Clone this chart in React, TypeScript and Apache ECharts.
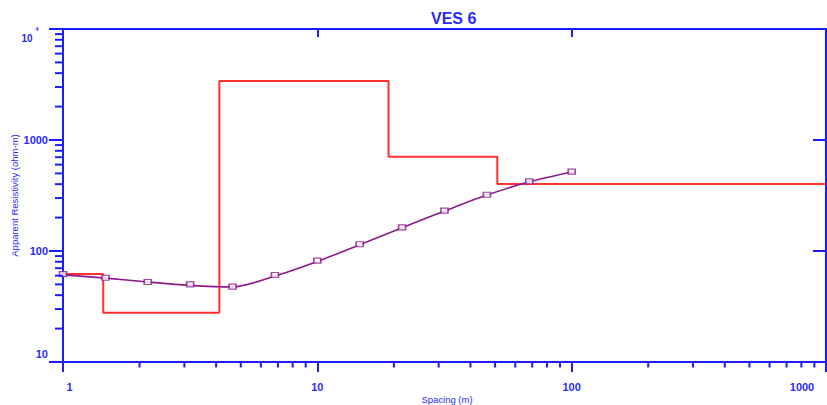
import React, { useEffect, useRef } from 'react';
import * as echarts from 'echarts';

// Observed sounding data (AB/2 spacing in m, apparent resistivity in ohm-m)
const spacing = [1, 1.468, 2.154, 3.162, 4.642, 6.813, 10, 14.68, 21.54, 31.62, 46.42, 68.13, 100];
const observedRho = [62, 57.4, 52.6, 50, 47.7, 60.8, 81.8, 115, 163, 231, 321, 424, 518];
// Calculated (model) curve
const calculatedRho = [61, 57, 52.5, 49, 47.5, 59.5, 80.5, 114, 162, 229, 319, 420, 515];
// Layered model (step): layer top spacing and resistivity
const layerTops = [1, 1.44, 4.12, 19.05, 51, 1000];
const layerRho = [62, 27.8, 3400, 707, 402, 402];

// Axis ranges and ticks
const X_MIN = 1;
const X_MAX = 1000;
const Y_MIN = 10;
const Y_MAX = 10000;
const minorMultipliers = [2, 3, 4, 5, 6, 7, 8, 9];
const xDecades = [1, 10, 100];
const yDecades = [10, 100, 1000];

const TITLE = 'VES 6';
const X_NAME = 'Spacing (m)';
const Y_NAME = 'Apparent Resistivity (ohm-m)';

const AXIS_COLOR = '#1c1cff';
const LABEL_COLOR = '#2a2aff';
const RED = '#ff3030';
const PURPLE = '#8a1a8a';
const FONT = '"Liberation Sans", Arial, sans-serif';

const xMinorTicks: number[] = [];
xDecades.forEach((d) => minorMultipliers.forEach((m) => xMinorTicks.push(m * d)));
const yMinorTicks: number[] = [];
yDecades.forEach((d) => minorMultipliers.forEach((m) => yMinorTicks.push(m * d)));

const labelBase = { fontFamily: FONT, fontSize: 11, fontWeight: 'bold', color: LABEL_COLOR };

export default function App() {
  const ref = useRef<HTMLDivElement>(null);

  useEffect(() => {
    document.body.style.margin = '0';
    const chart = echarts.init(ref.current as HTMLDivElement, null, { renderer: 'svg' });

    const option: any = {
      animation: false,
      backgroundColor: '#ffffff',
      textStyle: { fontFamily: FONT },
      title: {
        text: TITLE,
        left: 426,
        top: 5,
        textStyle: { fontFamily: FONT, fontSize: 16, fontWeight: 'bold', color: LABEL_COLOR },
      },
      grid: { left: 63, right: 1, top: 29, bottom: 43, containLabel: false, outerBoundsMode: 'none' },
      xAxis: [
        {
          type: 'log',
          logBase: 10,
          min: X_MIN,
          max: X_MAX,
          position: 'bottom',
          name: X_NAME,
          nameLocation: 'middle',
          nameGap: 32,
          nameMoveOverlap: false,
          nameTextStyle: { fontFamily: FONT, fontSize: 9.5, color: LABEL_COLOR, padding: [0, 0, 0, 5] },
          axisLine: { show: true, onZero: false, lineStyle: { color: AXIS_COLOR, width: 2 } },
          axisTick: { show: true, inside: false, length: 10, lineStyle: { color: AXIS_COLOR, width: 2 } },
          splitLine: { show: false },
          minorTick: { show: false },
          axisLabel: {
            show: true,
            margin: 19,
            ...labelBase,
            formatter: (v: number) => {
              const r = Math.round(v);
              if (r === X_MIN) return `{first|${r}}`;
              if (r === X_MAX) return `{last|${r}}`;
              return `{n|${r}}`;
            },
            rich: {
              n: { ...labelBase },
              first: { ...labelBase, padding: [0, 0, 0, 13] },
              last: { ...labelBase, padding: [0, 48, 0, 0] },
            },
          },
        },
        {
          type: 'log',
          logBase: 10,
          min: X_MIN,
          max: X_MAX,
          position: 'top',
          axisLine: { show: true, onZero: false, lineStyle: { color: AXIS_COLOR, width: 2 } },
          axisTick: { show: true, inside: true, length: 8, lineStyle: { color: AXIS_COLOR, width: 2 } },
          axisLabel: { show: false },
          splitLine: { show: false },
        },
      ],
      yAxis: [
        {
          type: 'log',
          logBase: 10,
          min: Y_MIN,
          max: Y_MAX,
          position: 'left',
          name: Y_NAME,
          nameLocation: 'middle',
          nameGap: 44,
          nameMoveOverlap: false,
          nameTextStyle: { fontFamily: FONT, fontSize: 9.5, color: LABEL_COLOR },
          axisLine: { show: true, onZero: false, lineStyle: { color: AXIS_COLOR, width: 2 } },
          axisTick: { show: true, inside: false, length: 14, lineStyle: { color: AXIS_COLOR, width: 2 } },
          splitLine: { show: false },
          minorTick: { show: false },
          axisLabel: {
            show: true,
            margin: 15,
            ...labelBase,
            formatter: (v: number) => {
              const r = Math.round(v);
              if (r === Y_MAX) return '{big|10}{sup|4}';
              if (r === Y_MIN) return `{low|${r}}`;
              return `{n|${r}}`;
            },
            rich: {
              n: { ...labelBase },
              low: { ...labelBase, padding: [0, 0, 16, 0] },
              big: { ...labelBase, fontSize: 10, padding: [18, 0, 0, 0] },
              sup: { ...labelBase, fontSize: 6, padding: [0, 9.5, 0, 2.5] },
            },
          },
        },
        {
          type: 'log',
          logBase: 10,
          min: Y_MIN,
          max: Y_MAX,
          position: 'right',
          axisLine: { show: true, onZero: false, lineStyle: { color: AXIS_COLOR, width: 2 } },
          axisTick: { show: true, inside: true, length: 13, lineStyle: { color: AXIS_COLOR, width: 2 } },
          axisLabel: { show: false },
          splitLine: { show: false },
        },
      ],
      series: [
        {
          name: 'Model',
          type: 'line',
          xAxisIndex: 0,
          yAxisIndex: 0,
          step: 'end',
          showSymbol: false,
          symbol: 'none',
          data: layerTops.map((x, i) => [x, layerRho[i]]),
          lineStyle: { color: RED, width: 2 },
          z: 3,
        },
        {
          name: 'Calculated',
          type: 'line',
          xAxisIndex: 0,
          yAxisIndex: 0,
          smooth: 0.3,
          showSymbol: false,
          symbol: 'none',
          data: spacing.map((x, i) => [x, calculatedRho[i]]),
          lineStyle: { color: PURPLE, width: 1.6 },
          z: 4,
        },
        {
          name: 'Observed',
          type: 'scatter',
          xAxisIndex: 0,
          yAxisIndex: 0,
          symbol: 'rect',
          symbolSize: [7, 5],
          data: spacing.map((x, i) => [x, observedRho[i]]),
          itemStyle: { color: '#ffffff', borderColor: PURPLE, borderWidth: 1.4 },
          z: 5,
        },
        {
          name: 'xMinor',
          type: 'custom',
          xAxisIndex: 0,
          yAxisIndex: 0,
          clip: false,
          silent: true,
          data: xMinorTicks.map((v) => [v, Y_MIN]),
          renderItem: (params: any, api: any) => {
            const p = api.coord([api.value(0), api.value(1)]);
            return {
              type: 'line',
              shape: { x1: p[0], y1: p[1], x2: p[0], y2: p[1] + 5.5 },
              style: { stroke: AXIS_COLOR, lineWidth: 2 },
            };
          },
          z: 6,
        },
        {
          name: 'yMinor',
          type: 'custom',
          xAxisIndex: 0,
          yAxisIndex: 0,
          clip: false,
          silent: true,
          data: yMinorTicks.map((v) => [X_MIN, v]),
          renderItem: (params: any, api: any) => {
            const p = api.coord([api.value(0), api.value(1)]);
            return {
              type: 'line',
              shape: { x1: p[0], y1: p[1], x2: p[0] - 8, y2: p[1] },
              style: { stroke: AXIS_COLOR, lineWidth: 2 },
            };
          },
          z: 6,
        },
      ],
    };

    chart.setOption(option);
    return () => {
      chart.dispose();
    };
  }, []);

  return <div ref={ref} style={{ width: 827, height: 405 }} />;
}
